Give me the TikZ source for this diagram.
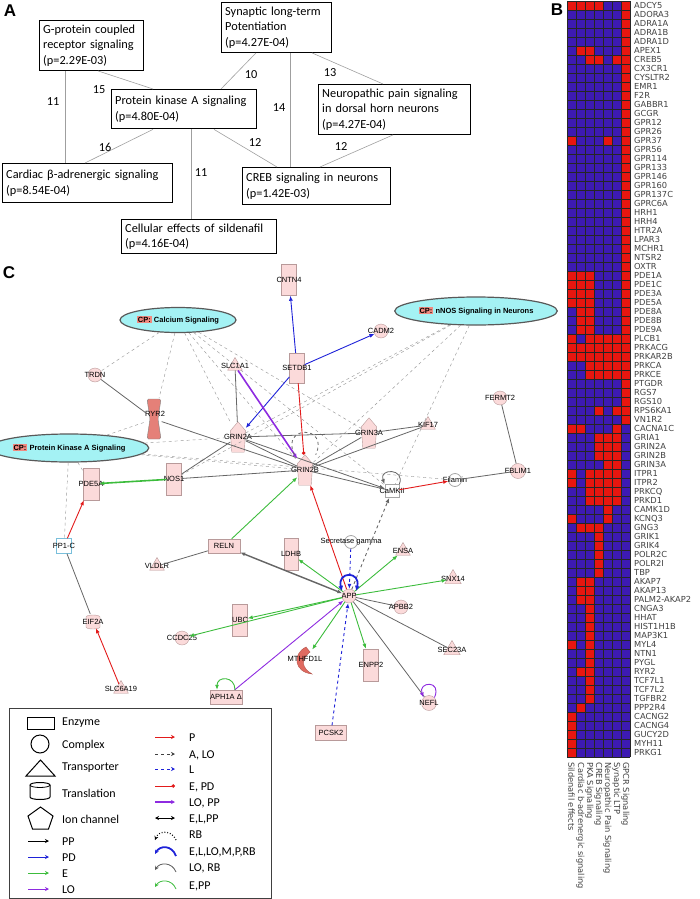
\documentclass[tikz,border=0pt]{standalone}
\usepackage{fontspec}
\setmainfont{Carlito}
\newfontfamily\ipafont{Liberation Sans}
\newfontfamily\heatfont{DejaVu Sans}
\usepackage{xcolor}
\usepackage{tikz}
\usetikzlibrary{arrows.meta,shapes.geometric}

\definecolor{nodepink}{HTML}{FBDADA}
\definecolor{nodeedge}{HTML}{B89A9A}
\definecolor{cpcyan}{HTML}{A4F2F4}
\definecolor{cptag}{HTML}{F08A80}
\definecolor{hred}{HTML}{E8160F}
\definecolor{hblue}{HTML}{3D1AB3}
\definecolor{ipared}{HTML}{E21B1B}
\definecolor{ipablue}{HTML}{1E22D8}
\definecolor{ipagreen}{HTML}{3CBC3C}
\definecolor{ipapurple}{HTML}{8E2BE0}
\definecolor{ipagray}{HTML}{666666}
\definecolor{crescent}{HTML}{E06A60}

\newcommand{\cp}[1]{{\fboxsep=1pt\colorbox{cptag}{CP:}}~#1}
% one heatmap cell, one heatmap row
\newcommand{\hcell}[2]{\ifnum#2=1 \fill[hred] ({567+9*(#1-1)},{1+9*(\rw-1)}) rectangle ++(9,9);\fi}
\newcommand{\hrow}[7]{\hcell{1}{#1}\hcell{2}{#2}\hcell{3}{#3}\hcell{4}{#4}\hcell{5}{#5}\hcell{6}{#6}\hcell{7}{#7}}
% ion channel: name, position, label
\newcommand{\ionch}[3]{%
  \node[inner sep=0pt, minimum width=15pt, minimum height=30pt] (#1) at (#2) {};
  \filldraw[fill=nodepink, draw=nodeedge] (#1.north) -- ([yshift=-9pt]#1.north east) -- ([xshift=-1.5pt]#1.south east) -- ([xshift=1.5pt]#1.south west) -- ([yshift=-9pt]#1.north west) -- cycle;
  \node[lbl] at (#1) {#3};}

\tikzset{
  panel/.style={font=\ipafont\bfseries\fontsize{17}{17}\selectfont},
  abox/.style={draw, line width=1.4pt, anchor=north west, align=left, inner xsep=3.5pt, inner ysep=4pt,
    font=\fontsize{12.3}{15.5}\selectfont, execute at begin node={\hyphenpenalty=10000}},
  alink/.style={draw=gray!75, line width=0.6pt},
  anum/.style={font=\fontsize{12.3}{15}\selectfont},
  gene/.style={anchor=west, inner sep=0pt, text=black!75, font=\heatfont\fontsize{8.3}{9}\selectfont},
  collab/.style={rotate=-90, anchor=west, inner sep=0pt, text=black!75, font=\heatfont\fontsize{8.3}{9}\selectfont},
  hgrid/.style={draw=black!85, line width=0.4pt},
  lbl/.style={font=\ipafont\fontsize{7.5}{8}\selectfont, inner sep=0pt},
  enz/.style={rectangle, draw=nodeedge, fill=nodepink, inner sep=0pt},
  cplx/.style={circle, draw=nodeedge, fill=nodepink, inner sep=0pt, minimum size=14pt},
  tport/.style={regular polygon, regular polygon sides=3, draw=nodeedge, fill=nodepink, inner sep=0pt, minimum size=17pt},
  other/.style={circle, draw=gray!70, fill=white, line width=0.8pt, inner sep=0pt, minimum size=13pt},
  cpnode/.style={ellipse, draw=black!65, line width=1.2pt, fill=cpcyan, inner sep=0pt, font=\ipafont\bfseries\fontsize{7.5}{8}\selectfont},
  cplink/.style={draw=gray!80, dashed, line width=0.45pt},
  plain/.style={draw=ipagray, line width=0.8pt},
  pparrow/.style={plain, ->},
  parrow/.style={draw=ipared, line width=0.9pt, ->},
  pdarrow/.style={draw=ipablue, line width=0.9pt, ->},
  earrow/.style={draw=ipagreen, line width=0.9pt, ->},
  loarrow/.style={draw=ipapurple, line width=0.9pt, ->},
  larrow/.style={draw=ipablue, dashed, line width=0.9pt, ->},
  aloarrow/.style={draw=ipagray, dashed, line width=0.9pt, ->},
  epdline/.style={draw=ipared, line width=0.9pt, -{Circle[length=3.5pt]}},
  legtxt/.style={anchor=west, inner sep=0pt, font=\fontsize{12}{14}\selectfont},
  legarrow/.style={line width=0.8pt, -{Stealth[length=4pt,width=4pt]}}
}

\begin{document}
\begin{tikzpicture}[x=1pt, y=-1pt, >={Latex[length=5pt,width=4pt]}]
\useasboundingbox (0,0) rectangle (699,899);

%% A: pathway overlap
\node[panel] at (10,11) {A};
\node[abox, text width=96.5pt] (gpcr) at (39,20) {G-protein coupled\\receptor signaling\\(p=2.29E-03)};
\node[abox, text width=102.5pt] (ltp) at (221,2) {Synaptic long-term\\Potentiation\\(p=4.27E-04)};
\node[abox, text width=137.5pt, minimum height=39pt] (pka) at (111,89) {Protein kinase A signaling\\(p=4.80E-04)};
\node[abox, text width=144.5pt] (neuro) at (318,84) {Neuropathic pain signaling\\in dorsal horn neurons\\(p=4.27E-04)};
\node[abox, text width=162.5pt, minimum height=39pt] (cardiac) at (2,163) {Cardiac β-adrenergic signaling\\(p=8.54E-04)};
\node[abox, text width=140.5pt, minimum height=37pt] (creb) at (242,167) {CREB signaling in neurons\\(p=1.42E-03)};
\node[abox, text width=147.5pt, minimum height=34pt] (sild) at (121,219) {Cellular effects of sildenafil\\(p=4.16E-04)};

\draw[alink] ([xshift=26pt]gpcr.south west) -- ([xshift=63pt]cardiac.north west);
\draw[alink] ([xshift=59pt]gpcr.south west) -- ([xshift=42pt]pka.north west);
\draw[alink] ([xshift=35pt]ltp.south west) -- ([xshift=110pt]pka.north west);
\draw[alink] ([xshift=69pt]ltp.south west) -- ([xshift=48pt]creb.north west);
\draw[alink] ([xshift=91pt]ltp.south west) -- ([xshift=65pt]neuro.north west);
\draw[alink] ([xshift=42pt]pka.south west) -- ([xshift=83pt]cardiac.north west);
\draw[alink] ([xshift=80pt]pka.south west) -- ([xshift=70pt]sild.north west);
\draw[alink] ([xshift=103pt]pka.south west) -- ([xshift=35pt]creb.north west);
\draw[alink] ([xshift=75pt]neuro.south west) -- ([xshift=78pt]creb.north west);

\node[anum] at (53,102) {11};
\node[anum] at (99,90) {15};
\node[anum] at (251,75) {10};
\node[anum] at (279,108) {14};
\node[anum] at (330,73) {13};
\node[anum] at (105,147) {16};
\node[anum] at (201,173) {11};
\node[anum] at (255,143) {12};
\node[anum] at (341,147) {12};

%% B: heatmap
\node[panel] at (557,10) {B};
\fill[hblue] (567,1) rectangle (630,757);
\foreach \gname/\bits [count=\rw] in {ADCY5/1111001,ADORA3/0000001,ADRA1A/0000001,ADRA1B/0000001,
  ADRA1D/0000001,APEX1/0110001,CREB5/0011011,CX3CR1/0000001,CYSLTR2/0000001,EMR1/0000001,
  F2R/0000001,GABBR1/0000001,GCGR/0000001,GPR12/0000001,GPR26/0000001,GPR37/1000101,
  GPR56/0000001,GPR114/0000001,GPR133/0000001,GPR146/0000001,GPR160/0000001,GPR137C/0000001,
  GPRC6A/0000001,HRH1/0000001,HRH4/0000001,HTR2A/0000001,LPAR3/0000001,MCHR1/0000001,
  NTSR2/0000001,OXTR/0000001,PDE1A/1110001,PDE1C/1110001,PDE3A/1110001,PDE5A/1110001,
  PDE8A/0110001,PDE8B/0110001,PDE9A/0110001,PLCB1/1011111,PRKACG/1111111,PRKAR2B/1111111,
  PRKCA/0011111,PRKCE/0011111,PTGDR/0000001,RGS7/0000001,RGS10/0000001,RPS6KA1/0001011,
  VN1R2/0000001,CACNA1C/1100010,GRIA1/0001110,GRIN2A/0001110,GRIN2B/0001110,GRIN3A/0000110,
  ITPR1/1011110,ITPR2/1011110,PRKCQ/0011110,PRKD1/0011110,CAMK1D/0000100,KCNQ3/1000100,
  GNG3/0111000,GRIK1/0001000,GRIK4/0001000,POLR2C/0001000,POLR2I/0001000,TBP/0001000,
  AKAP7/0110000,AKAP13/0110000,PALM2-AKAP2/0110000,CNGA3/0010000,HHAT/0010000,
  HIST1H1B/0010000,MAP3K1/0010000,MYL4/1010000,NTN1/0010000,PYGL/0010000,RYR2/0110000,
  TCF7L1/0010000,TCF7L2/0010000,TGFBR2/0010000,PPP2R4/0100000,CACNG2/1000000,
  CACNG4/1000000,GUCY2D/1000000,MYH11/1000000,PRKG1/1000000}{
  \expandafter\hrow\bits
  \node[gene] at (634,{5.5+9*(\rw-1)}) {\gname};
}
\foreach \i in {0,...,7} \draw[hgrid] ({567+9*\i},1) -- ++(0,756);
\foreach \i in {0,...,84} \draw[hgrid] (567,{1+9*\i}) -- ++(63,0);
\foreach \lab [count=\cl] in {Sildenafil effects,Cardiac b-adrenergic signaling,PKA Signaling,
  CREB Signaling,Neuropathic Pain Signaling,Synaptic LTP,GPCR Signaling}
  \node[collab] at ({571.5+9*(\cl-1)},762) {\lab};

%% C: network
\node[panel] at (9,273) {C};
\node[cpnode, minimum width=105pt, minimum height=25pt] (calcp) at (178,320) {\cp{Calcium Signaling}};
\node[cpnode, minimum width=132pt, minimum height=28pt] (nnoscp) at (476,311) {\cp{nNOS Signaling in Neurons}};
\node[cpnode, minimum width=135pt, minimum height=28pt] (pkacp) at (69,448) {\cp{Protein Kinase A Signaling}};

% enzymes
\node[enz, minimum width=15pt, minimum height=31pt, label={[lbl]center:CNTN4}] (cntn4) at (289,280) {};
\node[enz, minimum width=15pt, minimum height=30pt, label={[lbl]center:SETDB1}] (setdb1) at (297,368) {};
\node[enz, minimum width=16pt, minimum height=32pt, label={[lbl]center:PDE5A}] (pde5a) at (91,484) {};
\node[enz, minimum width=15pt, minimum height=32pt, label={[lbl]center:NOS1}] (nos1) at (174,479) {};
\node[enz, minimum width=14pt, minimum height=32pt, label={[lbl]center:LDHB}] (ldhb) at (291,554) {};
\node[enz, minimum width=15pt, minimum height=32pt, label={[lbl]center:UBC}] (ubc) at (240,620) {};
\node[enz, minimum width=15pt, minimum height=32pt, label={[lbl]center:ENPP2}] (enpp2) at (371,665) {};
\node[enz, minimum width=32pt, minimum height=14pt, label={[lbl]center:RELN}] (reln) at (224,546) {};
\node[enz, minimum width=32pt, minimum height=14pt, label={[lbl]center:APH1A Δ}] (aph1a) at (226,697) {};
\node[enz, minimum width=31pt, minimum height=15pt, label={[lbl]center:PCSK2}] (pcsk2) at (331,733) {};
\node[rectangle, draw=cyan!55!teal!60, fill=white, minimum size=15pt, inner sep=0pt, label={[lbl]center:PP1-C}] (pp1c) at (64,546) {};

% complexes
\node[cplx, label={[lbl]center:TRDN}] (trdn) at (95,375) {};
\node[cplx, label={[lbl]center:CADM2}] (cadm2) at (381,331) {};
\node[cplx, label={[lbl]center:FERMT2}] (fermt2) at (500,398) {};
\node[cplx, minimum size=15pt, label={[lbl]center:FBLIM1}] (fblim1) at (518,471) {};
\node[cplx, label={[lbl]center:APP}] (app) at (349,596) {};
\node[cplx, label={[lbl]center:APBB2}] (apbb2) at (401,607) {};
\node[cplx, label={[lbl]center:CCDC25}] (ccdc25) at (182,638) {};
\node[cplx, minimum size=15pt, label={[lbl]center:NEFL}] (nefl) at (429,703) {};
\node[other, label={[lbl]center:Secretase gamma}] (secg) at (351,542) {};
\node[other, label={[lbl]center:Filamin}] (filamin) at (455,480) {};

% transporters
\node[tport, label={[lbl]center:SLC1A1}] (slc1a1) at (235,366) {};
\node[tport, label={[lbl]center:KIF17}] (kif17) at (428,425) {};
\node[tport, label={[lbl]center:VLDLR}] (vldlr) at (157,566) {};
\node[tport, label={[lbl]center:ENSA}] (ensa) at (403,551) {};
\node[tport, minimum size=19pt, label={[lbl]center:SNX14}] (snx14) at (453,579) {};
\node[tport, minimum size=19pt, label={[lbl]center:SEC23A}] (sec23a) at (452,650) {};
\node[tport, label={[lbl]center:SLC6A19}] (slc6a19) at (121,689) {};

% ion channels
\ionch{grin2a}{238,437}{GRIN2A}
\ionch{grin2b}{305,470}{GRIN2B}
\ionch{grin3a}{369,433}{GRIN3A}

% odd shapes
\node[inner sep=0pt, minimum width=15pt, minimum height=42pt] (ryr2) at (154,419) {};
\filldraw[fill=crescent!85, draw=gray, rounded corners=1.5pt] (147,399) -- (161,399) -- (158,419) -- (161,439) -- (147,439) -- (150,419) -- cycle;
\node[lbl] at (155,414) {RYR2};
\node[inner sep=0pt, minimum width=14pt, minimum height=14pt] (eif2a) at (93,621) {};
\filldraw[fill=nodepink, draw=nodeedge] (86,617) -- (86,627) arc[start angle=180, end angle=360, x radius=7pt, y radius=2pt] -- (100,617) arc[start angle=0, end angle=180, x radius=7pt, y radius=2pt] -- cycle;
\node[lbl] at (93,622) {EIF2A};
\node[inner sep=0pt, minimum width=14pt, minimum height=26pt] (mthfd1l) at (305,660) {};
\filldraw[fill=crescent, draw=crescent!80!black] (306,647) .. controls (292,654) and (294,672) .. (312,674) .. controls (302,668) and (300,660) .. (310,652) -- cycle;
\node[lbl] at (305,659) {MTHFD1L};
\node[rectangle, draw=gray!70, fill=white, line width=0.8pt, minimum width=14pt, minimum height=13pt, inner sep=0pt] (camk) at (392,491) {};
\node[lbl] at (392,491) {CaMKII};

% links to canonical pathways
\foreach \tg in {trdn,ryr2,grin2a,grin2b,grin3a,camk} \draw[cplink] (calcp) -- (\tg);
\foreach \tg in {grin2a,nos1,grin2b,camk} \draw[cplink] (nnoscp) -- (\tg);
\foreach \tg in {ryr2,pde5a,pp1c,grin2a,grin2b,filamin} \draw[cplink] (pkacp) -- (\tg);

% gene to gene
\draw[plain] (trdn) -- (ryr2);
\draw[plain] (ryr2) -- (grin2b);
\draw[plain] (slc1a1) -- (grin2a);
\draw[plain] (grin2a) -- (grin3a);
\draw[plain] (grin2a) -- (grin2b);
\draw[plain] (nos1) -- (grin2a);
\draw[plain] (nos1) -- (grin2b);
\draw[plain] (grin3a) -- (grin2b);
\draw[plain] (kif17) -- (grin3a);
\draw[plain] (kif17) -- (grin2b);
\draw[plain] (grin2b) -- (camk);
\draw[pparrow] (grin2a) -- (camk);
\draw[plain] (fermt2) -- (fblim1);
\draw[plain] (fblim1) -- (filamin);
\draw[plain] (pp1c) -- (eif2a);
\draw[plain] (vldlr) -- (reln);
\draw[plain] (app) -- (apbb2);
\draw[plain] (app) -- (sec23a);
\draw[plain] (app) -- (nefl);
\draw[parrow] (pp1c) -- (pde5a);
\draw[parrow] (slc6a19) -- (eif2a);
\draw[parrow] (camk) -- (filamin);
\draw[parrow] (app) -- (grin2b);
\draw[epdline] (setdb1) -- (grin2b);
\draw[pdarrow] (setdb1) -- (cntn4);
\draw[pdarrow] (setdb1) -- (cadm2);
\draw[pdarrow] (setdb1) -- (grin2a);
\draw[loarrow, line width=1.6pt] (slc1a1) -- (grin2b);
\draw[earrow, line width=1.6pt] (nos1) -- (pde5a);
\draw[earrow] (reln) -- (grin2b);
\foreach \tg in {ldhb,ensa,snx14,ubc,ccdc25,mthfd1l,enpp2} \draw[earrow] (app) -- (\tg);
\draw[loarrow] (aph1a) -- (app);
\draw[larrow] (secg) -- (app);
\draw[larrow] (pcsk2) -- (app);
\draw[aloarrow] (app) -- (camk);
\draw[plain, line width=1.4pt, <->] (reln) -- (app);

% self loops
\draw[draw=ipagray, dashed, line width=0.8pt] ([xshift=-3pt]grin2b.north west) .. controls +(-14,-30) and +(14,-30) .. ([xshift=3pt]grin2b.north east);
\draw[plain, ->] (camk.north east) .. controls +(6,-16) and +(-6,-16) .. (camk.north west);
\draw[draw=ipablue, line width=1.8pt, {Latex[length=5pt,width=5pt]}-{Latex[length=5pt,width=5pt]}] ([xshift=-2pt]app.north west) .. controls +(-5,-20) and +(5,-20) .. ([xshift=2pt]app.north east);
\draw[loarrow] (nefl.north east) .. controls +(8,-18) and +(-6,-16) .. (nefl.north west);
\draw[earrow] ([xshift=9pt]aph1a.north) .. controls +(0,-14) and +(0,-14) .. ([xshift=-9pt]aph1a.north);

%% legend
\draw[line width=0.8pt, draw=black!75] (9,708) rectangle (271,898);
\draw[line width=1pt] (27,717) rectangle (54,729);
\node[legtxt] at (62,723) {Enzyme};
\draw[line width=1pt] (40,744) circle[radius=9pt];
\node[legtxt] at (62,745) {Complex};
\draw[line width=1pt] (26,776) -- (55,776) -- (40.5,760) -- cycle;
\node[legtxt] at (62,768) {Transporter};
\draw[line width=1pt] (30,785) -- (30,797) arc[start angle=180, end angle=360, x radius=10pt, y radius=2.5pt] -- (50,785) arc[start angle=0, end angle=180, x radius=10pt, y radius=2.5pt] -- cycle;
\draw[line width=0.8pt] (30,785) arc[start angle=180, end angle=360, x radius=10pt, y radius=2.5pt];
\node[legtxt] at (62,793) {Translation};
\draw[line width=1pt] (40.5,807) -- (53,816) -- (48.5,829) -- (32.5,829) -- (28,816) -- cycle;
\node[legtxt] at (62,819) {Ion channel};

\draw[legarrow, black] (28,841) -- (49,841);
\node[legtxt] at (62,842) {PP};
\draw[legarrow, ipablue] (28,857) -- (49,857);
\node[legtxt] at (62,858) {PD};
\draw[legarrow, ipagreen] (28,873) -- (49,873);
\node[legtxt] at (62,874) {E};
\draw[legarrow, ipapurple] (28,889) -- (49,889);
\node[legtxt] at (62,890) {LO};

\draw[legarrow, ipared] (155,737) -- (175,737);
\node[legtxt] at (189,738) {P};
\draw[legarrow, black!75, dashed] (155,754) -- (175,754);
\node[legtxt] at (189,755) {A, LO};
\draw[legarrow, ipablue, dashed] (155,769) -- (175,769);
\node[legtxt] at (189,770) {L};
\draw[ipared, line width=0.8pt, -{Circle[length=3.5pt]}] (155,786) -- (175,786);
\node[legtxt] at (189,787) {E, PD};
\draw[legarrow, ipapurple, line width=1.3pt] (155,802) -- (175,802);
\node[legtxt] at (189,803) {LO, PP};
\draw[line width=1pt, {Stealth[length=4pt,width=4pt]}-{Stealth[length=4pt,width=4pt]}] (155,818) -- (175,818);
\node[legtxt] at (189,819) {E,L,PP};
\draw[legarrow, dotted, line width=1.2pt] (176,840) .. controls (172,830) and (159,830) .. (155,840);
\node[legtxt] at (189,835) {RB};
\draw[legarrow, ipablue, line width=1.8pt] (176,856) .. controls (172,845) and (160,845) .. (155,854);
\node[legtxt] at (189,852) {E,L,LO,M,P,RB};
\draw[legarrow, black!65] (176,872) .. controls (172,862) and (160,862) .. (155,870);
\node[legtxt] at (189,868) {LO, RB};
\draw[legarrow, ipagreen] (176,889) .. controls (172,879) and (160,879) .. (155,887);
\node[legtxt] at (189,886) {E,PP};
\end{tikzpicture}
\end{document}
